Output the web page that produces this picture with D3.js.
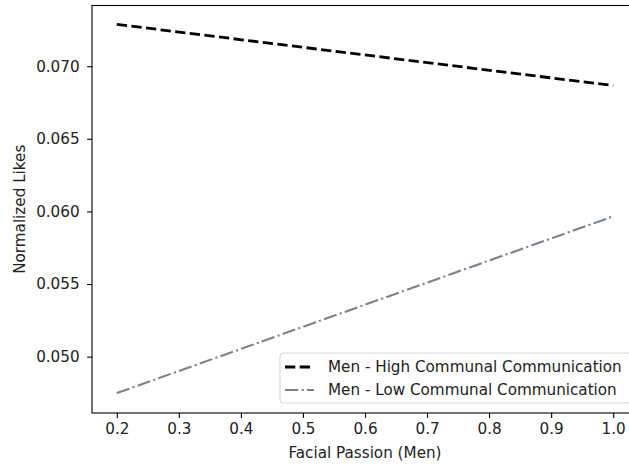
<!DOCTYPE html>
<html>
<head>
<meta charset="utf-8">
<title>Normalized Likes vs Facial Passion</title>
<script src="https://d3js.org/d3.v7.min.js"></script>
<style>
  body { margin: 0; background: #fff; }
  svg { display: block; font-family: "DejaVu Sans", sans-serif; }
</style>
</head>
<body>
<div id="chart"></div>
<script>
  // values
  const passion = [0.2, 1.0];
  const highComm = [0.07288, 0.06867];
  const lowComm = [0.04749, 0.05966];
  const seriesNames = ["Men - High Communal Communication", "Men - Low Communal Communication"];
  const xTicks = [0.2, 0.3, 0.4, 0.5, 0.6, 0.7, 0.8, 0.9, 1.0];
  const yTicks = [0.050, 0.055, 0.060, 0.065, 0.070];

  const width = 629;
  const height = 466;
  const plotLeft = 92, plotTop = 5.5, plotRight = 638, plotBottom = 413;
  const fs = 15.2;

  const svg = d3.select("#chart")
          .append("svg")
          .attr("width", width)
          .attr("height", height);

  const x = d3.scaleLinear().domain([0.16, 1.04]).range([plotLeft, plotRight]);
  const y = d3.scaleLinear().domain([0.04612, 0.07418]).range([plotBottom, plotTop]);

  const series = [
    {name: seriesNames[0], values: highComm, color: "#000", width: 2.8, dash: "10.3,4.4"},
    {name: seriesNames[1], values: lowComm, color: "#7a828b", width: 2.1, dash: "13.3,3.3,2.1,3.3"}
  ];

  const line = d3.line()
          .x((d, i) => x(passion[i]))
          .y(d => y(d));

  series.forEach(s => {
    svg.append("path")
            .datum(s.values)
            .attr("fill", "none")
            .attr("stroke", s.color)
            .attr("stroke-width", s.width)
            .attr("stroke-dasharray", s.dash)
            .attr("d", line);
  });

  // axes
  const xAxis = svg.append("g")
          .attr("transform", `translate(0,${plotBottom})`)
          .call(d3.axisBottom(x).tickValues(xTicks).tickFormat(d3.format(".1f")).tickSize(4.9).tickPadding(5.5));
  const yAxis = svg.append("g")
          .attr("transform", `translate(${plotLeft},0)`)
          .call(d3.axisLeft(y).tickValues(yTicks).tickFormat(d3.format(".3f")).tickSize(4.9).tickPadding(7.5));

  [xAxis, yAxis].forEach(g => {
    g.select(".domain").remove();
    g.selectAll(".tick line").attr("stroke", "#000").attr("stroke-width", 1.1);
    g.selectAll(".tick text").attr("fill", "#222").style("font-size", fs + "px").style("font-family", "DejaVu Sans");
  });

  // spines
  svg.append("rect")
          .attr("x", plotLeft).attr("y", plotTop)
          .attr("width", plotRight - plotLeft).attr("height", plotBottom - plotTop)
          .attr("fill", "none").attr("stroke", "#000").attr("stroke-width", 1.1);

  svg.append("text")
          .attr("x", (plotLeft + plotRight) / 2).attr("y", 458)
          .attr("text-anchor", "middle")
          .style("font-size", fs + "px").attr("fill", "#222")
          .text("Facial Passion (Men)");

  svg.append("text")
          .attr("transform", `translate(25,${(plotTop + plotBottom) / 2}) rotate(-90)`)
          .attr("text-anchor", "middle")
          .style("font-size", fs + "px").attr("fill", "#222")
          .text("Normalized Likes");

  // legend, anchored to the lower right of the axes
  const legend = svg.append("g");
  const lgBox = legend.append("rect")
          .attr("x", 280).attr("y", 353)
          .attr("rx", 3)
          .attr("height", 50)
          .attr("fill", "#fff").attr("fill-opacity", 0.85)
          .attr("stroke", "#d6d6d6").attr("stroke-width", 1);
  series.forEach((s, i) => {
    const cy = 367 + i * 23;
    legend.append("line")
            .attr("x1", 285).attr("x2", 314)
            .attr("y1", cy).attr("y2", cy)
            .attr("stroke", s.color)
            .attr("stroke-width", s.width)
            .attr("stroke-dasharray", s.dash);
    legend.append("text")
            .attr("x", 328).attr("y", cy)
            .attr("dy", "0.36em")
            .style("font-size", fs + "px").attr("fill", "#222")
            .text(s.name);
  });
  lgBox.attr("width", plotRight - 7.5 - 280);
</script>
</body>
</html>
